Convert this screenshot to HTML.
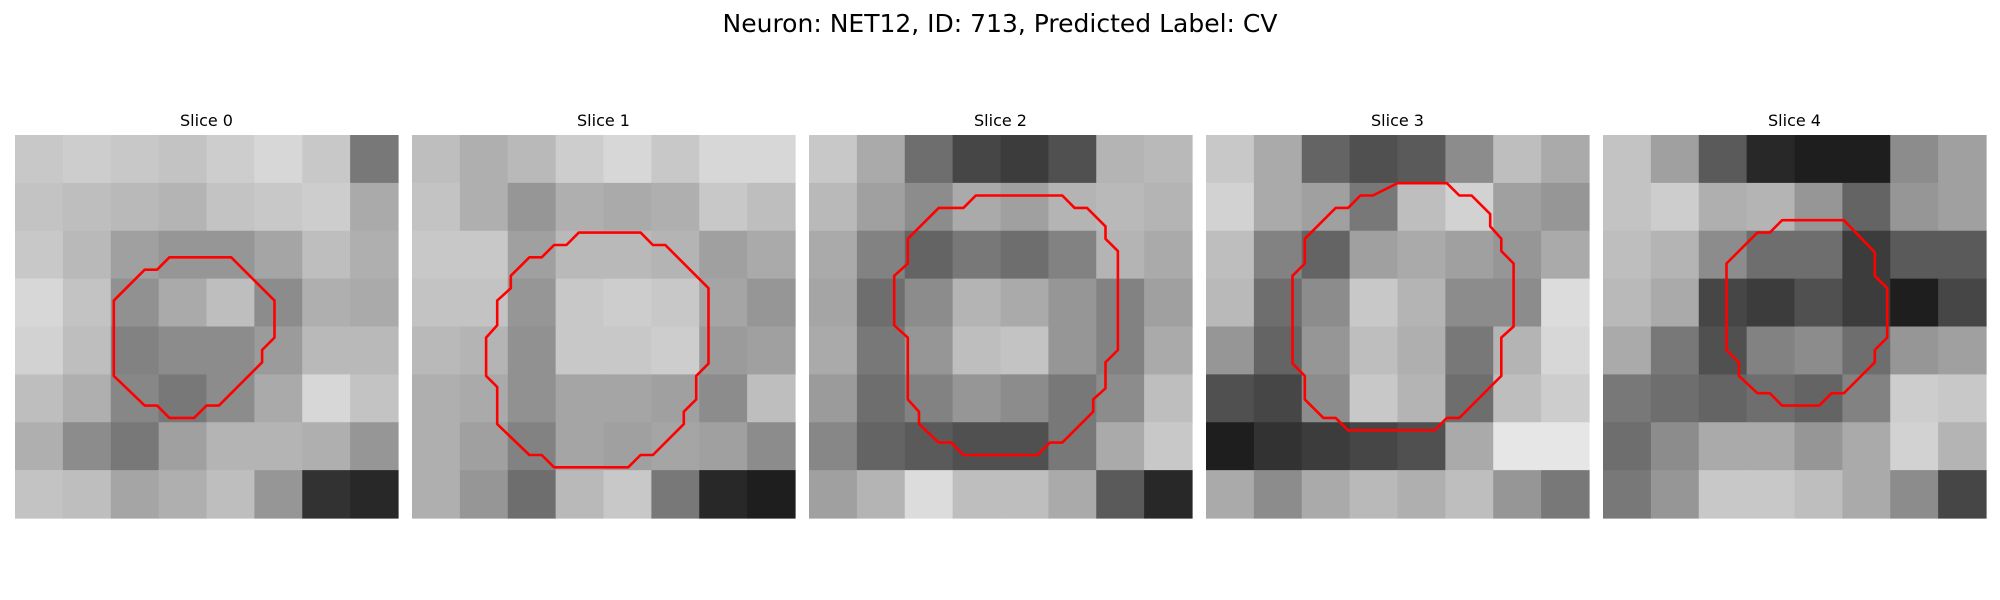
<!DOCTYPE html>
<html><head><meta charset="utf-8"><style>
html,body{margin:0;padding:0;background:#fff;width:2000px;height:600px;overflow:hidden}
svg{display:block}
text{font-family:"DejaVu Sans","Liberation Sans",sans-serif;fill:#000}
</style></head><body>
<svg id="fig" width="2000" height="600">
<text x="1000" y="32" font-size="25" text-anchor="middle">Neuron: NET12, ID: 713, Predicted Label: CV</text>
</svg>
<script>
const panelTitles = ["Slice 0","Slice 1","Slice 2","Slice 3","Slice 4"];
const grid0 = [[200,205,200,195,205,215,200,120],[195,190,185,180,195,200,205,170],[200,185,160,150,150,165,190,175],[215,195,145,170,190,140,175,170],[210,190,130,140,140,155,185,185],[190,175,135,120,140,170,215,195],[175,140,120,160,180,180,175,150],[195,190,165,175,190,150,50,40]];
const grid1 = [[190,175,185,205,215,200,215,215],[195,175,150,175,170,175,200,190],[200,200,160,185,185,180,160,170],[195,195,150,200,205,200,165,150],[185,180,145,200,200,205,155,160],[175,170,145,165,165,160,140,190],[175,160,130,165,160,165,160,140],[175,150,110,185,200,120,40,30]];
const grid2 = [[200,170,110,70,60,80,180,185],[185,160,140,170,160,180,185,180],[170,130,100,120,110,130,180,170],[165,110,140,180,170,150,130,160],[170,120,150,190,195,150,130,170],[155,110,130,150,140,120,140,190],[135,100,90,80,80,120,170,200],[160,180,220,190,190,170,90,40]];
const grid3 = [[200,170,100,80,90,140,190,170],[210,170,160,120,190,210,160,150],[190,130,100,160,170,160,150,170],[185,110,140,200,180,140,140,220],[150,100,150,190,175,120,180,215],[80,70,140,200,180,110,190,205],[30,50,60,70,80,170,230,230],[170,140,170,185,175,190,150,120]];
const grid4 = [[195,160,90,40,30,30,140,160],[195,205,175,180,150,100,150,160],[190,180,140,110,110,60,90,90],[185,170,70,60,80,60,30,70],[170,120,80,130,140,110,150,160],[120,110,100,110,100,130,205,200],[110,140,170,170,150,170,210,180],[120,150,200,200,190,170,140,70]];
const contour0 = [[12.5,9.9],[17.5,9.9],[21,13.4],[21,16.4],[20,17.4],[20,18.4],[16.5,21.9],[15.5,21.9],[14.5,22.9],[12.5,22.9],[11.5,21.9],[10.5,21.9],[8,19.5],[8,13.4],[10.5,10.9],[11.5,10.9]];
const contour1 = [[13.5,7.9],[18.5,7.9],[19.5,8.9],[20.5,8.9],[24,12.4],[24,18.5],[23,19.5],[23,21.4],[22,22.4],[22,23.4],[19.5,25.9],[18.5,25.9],[17.5,26.9],[11.5,26.9],[10.5,25.9],[9.5,25.9],[6.9,23.4],[6.9,20.4],[6,19.5],[6,16.4],[6.9,15.4],[6.9,13.4],[8,12.4],[8,11.4],[9.5,9.9],[10.5,9.9],[11.5,8.9],[12.5,8.9]];
const contour2 = [[13.5,4.9],[20.5,4.9],[21.5,5.9],[22.5,5.9],[24,7.4],[24,8.4],[25,9.4],[25,17.4],[24,18.4],[24,20.5],[23,21.4],[23,22.4],[20.5,24.9],[19.5,24.9],[18.5,25.9],[12.5,25.9],[11.5,24.9],[10.5,24.9],[8.9,23.4],[8.9,22.4],[8,21.4],[8,16.4],[6.9,15.4],[6.9,11.4],[8,10.4],[8,8.4],[10.5,5.9],[12.5,5.9]];
const contour3 = [[15.5,3.9],[19.5,3.9],[20.5,4.9],[21.5,4.9],[23,6.4],[23,7.4],[23.9,8.4],[23.9,9.4],[24.9,10.4],[24.9,15.5],[23.9,16.4],[23.9,19.5],[20.5,22.9],[19.5,22.9],[18.5,23.9],[11.5,23.9],[10.5,22.9],[9.5,22.9],[8,21.4],[8,19.5],[7,18.5],[7,11.4],[8,10.4],[8,8.4],[10.5,5.9],[11.5,5.9],[12.5,4.9],[13.5,4.9]];
const contour4 = [[14.5,6.9],[19.5,6.9],[22,9.5],[22,11.4],[23,12.4],[23,16.4],[22,17.4],[22,18.4],[19.5,20.9],[18.5,20.9],[17.5,21.9],[14.5,21.9],[13.5,20.9],[12.5,20.9],[11,19.5],[11,18.4],[10,17.4],[10,10.4],[12.5,7.9],[13.5,7.9]];

const grids=[grid0,grid1,grid2,grid3,grid4];
const contours=[contour0,contour1,contour2,contour3,contour4];
const NS="http://www.w3.org/2000/svg";
const fig=document.getElementById('fig');
const P0=15, PSTEP=397, PT=135, PS=383, NCELL=31;
function gx(i,g){return P0+i*PSTEP+g*PS/NCELL;}
function gy(g){return PT+g*PS/NCELL;}
for(let i=0;i<5;i++){
  const g=document.createElementNS(NS,'g');
  
  
  fig.appendChild(g);
  const t=document.createElementNS(NS,'text');
  
  
  t.setAttribute('x',P0+i*PSTEP+PS/2);t.setAttribute('y',126);
  t.setAttribute('font-size','16');t.setAttribute('text-anchor','middle');
  t.textContent=panelTitles[i];g.appendChild(t);
  const grid=grids[i], n=grid.length, cw=PS/n;
  for(let r=0;r<n;r++)for(let c=0;c<grid[r].length;c++){
    const v=grid[r][c];
    const rc=document.createElementNS(NS,'rect');
    
    
    rc.setAttribute('x',(P0+i*PSTEP+c*cw).toFixed(2));rc.setAttribute('y',(PT+r*cw).toFixed(2));
    rc.setAttribute('width',(cw+0.6).toFixed(2));rc.setAttribute('height',(cw+0.6).toFixed(2));
    rc.setAttribute('fill',`rgb(${v},${v},${v})`);
    g.appendChild(rc);
  }
  const pl=document.createElementNS(NS,'polygon');
  
  
  pl.setAttribute('points',contours[i].map(p=>gx(i,p[0]).toFixed(1)+','+gy(p[1]).toFixed(1)).join(' '));
  pl.setAttribute('fill','none');pl.setAttribute('stroke','#ff0000');pl.setAttribute('stroke-width','2.6');
  pl.setAttribute('stroke-linejoin','round');
  g.appendChild(pl);
}
</script>
</body></html>
